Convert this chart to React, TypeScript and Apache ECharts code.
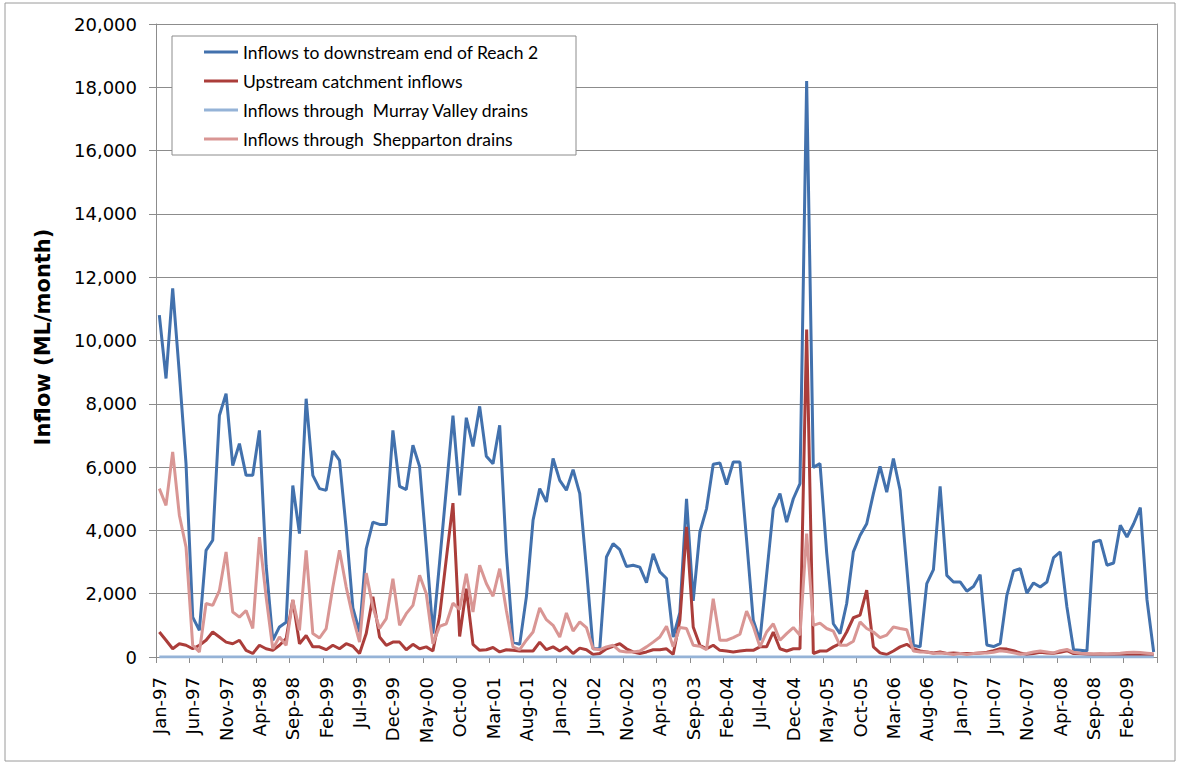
import React, { useEffect, useRef } from "react";
import * as echarts from "echarts";

const MONTH_NAMES = ["Jan", "Feb", "Mar", "Apr", "May", "Jun", "Jul", "Aug", "Sep", "Oct", "Nov", "Dec"];
const FIRST_YEAR = 1997;
const N_MONTHS = 150;
const categories: string[] = Array.from({ length: N_MONTHS }, (_, i) => {
  const y = (FIRST_YEAR + Math.floor(i / 12)) % 100;
  return `${MONTH_NAMES[i % 12]}-${String(y).padStart(2, "0")}`;
});

const seriesNames = [
  "Inflows to downstream end of Reach 2",
  "Upstream catchment inflows",
  "Inflows through  Murray Valley drains",
  "Inflows through  Shepparton drains",
];

const reach2Inflows = [
  10800, 8800, 11650, 8950, 6100, 1260, 840, 3370, 3690, 7630,
  8320, 6050, 6740, 5740, 5740, 7160, 2900, 530, 950, 1100,
  5420, 3900, 8160, 5740, 5320, 5265, 6510, 6210, 4050, 1550,
  790, 3420, 4260, 4190, 4190, 7160, 5390, 5290, 6690, 6020,
  3470, 740, 3000, 5300, 7630, 5110, 7560, 6650, 7920, 6340,
  6110, 7320, 3300, 470, 400, 1900, 4320, 5320, 4900, 6270,
  5580, 5270, 5920, 5160, 2800, 260, 260, 3160, 3580, 3390,
  2860, 2900, 2840, 2350, 3260, 2690, 2480, 630, 1400, 5000,
  1770, 3950, 4690, 6090, 6130, 5450, 6160, 6160, 3700, 1160,
  530, 2600, 4690, 5160, 4260, 5000, 5480, 18200, 5990, 6110,
  3300, 1050, 740, 1690, 3320, 3840, 4210, 5160, 6020, 5210,
  6270, 5270, 2840, 370, 320, 2320, 2760, 5390, 2580, 2370,
  2370, 2080, 2230, 2600, 380, 330, 420, 1950, 2720, 2790,
  2020, 2340, 2210, 2370, 3140, 3320, 1580, 230, 210, 190,
  3630, 3690, 2900, 2970, 4160, 3790, 4210, 4720, 1810, 160,
];

const upstreamInflows = [
  790, 530, 260, 420, 370, 260, 370, 530, 790, 630,
  470, 420, 530, 210, 110, 370, 260, 210, 370, 580,
  1800, 420, 680, 320, 320, 230, 370, 260, 420, 340,
  110, 740, 1900, 630, 370, 470, 470, 230, 400, 260,
  320, 190, 1300, 3100, 4860, 650, 2160, 400, 210, 230,
  300, 160, 230, 210, 190, 190, 190, 470, 230, 320,
  190, 320, 110, 280, 230, 80, 110, 260, 340, 420,
  260, 160, 110, 160, 230, 230, 260, 80, 1160, 4110,
  950, 370, 260, 370, 210, 190, 160, 190, 210, 210,
  320, 320, 790, 260, 190, 260, 260, 10350, 110, 190,
  190, 320, 420, 790, 1240, 1320, 2110, 320, 130, 80,
  190, 320, 400, 260, 190, 160, 130, 160, 110, 130,
  110, 110, 110, 130, 150, 200, 260, 250, 200, 130,
  80, 110, 150, 130, 120, 150, 200, 110, 100, 90,
  80, 70, 70, 80, 60, 70, 90, 80, 70, 60,
];

const murrayValleyDrains = [
  0, 0, 0, 0, 0, 0, 0, 0, 0, 0,
  0, 0, 0, 0, 0, 0, 0, 0, 0, 0,
  0, 0, 0, 0, 0, 0, 0, 0, 0, 0,
  0, 0, 0, 0, 0, 0, 0, 0, 0, 0,
  0, 0, 0, 0, 0, 0, 0, 0, 0, 0,
  0, 0, 0, 0, 0, 0, 0, 0, 0, 0,
  0, 0, 0, 0, 0, 0, 0, 0, 0, 0,
  0, 0, 0, 0, 0, 0, 0, 0, 0, 0,
  0, 0, 0, 0, 0, 0, 0, 0, 0, 0,
  0, 0, 0, 0, 0, 0, 0, 0, 0, 0,
  0, 0, 0, 0, 0, 0, 0, 0, 0, 0,
  0, 0, 0, 0, 0, 0, 0, 0, 0, 0,
  0, 0, 0, 0, 0, 0, 0, 0, 0, 0,
  0, 0, 0, 0, 0, 0, 0, 0, 0, 0,
  0, 0, 0, 0, 0, 0, 0, 0, 0, 0,
];

const sheppartonDrains = [
  5320, 4790, 6480, 4480, 3470, 370, 160, 1690, 1630, 2100,
  3320, 1420, 1260, 1470, 900, 3790, 1900, 260, 630, 370,
  1800, 840, 3370, 740, 600, 900, 2210, 3370, 2210, 1260,
  470, 2650, 1580, 900, 1210, 2470, 1000, 1370, 1630, 2580,
  2000, 420, 970, 1050, 1700, 1500, 2630, 1420, 2900, 2320,
  1920, 2790, 1470, 320, 230, 530, 790, 1550, 1180, 1000,
  630, 1390, 820, 1110, 930, 260, 230, 320, 370, 190,
  160, 160, 190, 320, 470, 630, 970, 320, 930, 900,
  370, 340, 230, 1840, 530, 530, 610, 720, 1450, 970,
  320, 790, 1050, 530, 740, 930, 690, 3900, 1000, 1070,
  900, 820, 370, 370, 500, 1110, 900, 790, 610, 690,
  950, 900, 860, 190, 160, 160, 110, 130, 110, 80,
  110, 80, 110, 130, 130, 150, 200, 170, 130, 90,
  110, 160, 190, 160, 130, 200, 240, 150, 120, 110,
  100, 110, 100, 110, 120, 140, 150, 140, 120, 100,
];

const Y_MIN = 0;
const Y_MAX = 20000;
const Y_INTERVAL = 2000;

const COLORS = ["#4271ad", "#ab3d3a", "#95b3d7", "#d99694"];
const GRID_GRAY = "#8c8c8c";
const AXIS_FONT = "'DejaVu Sans', sans-serif";
const LEGEND_FONT = "Lato, 'Open Sans', sans-serif";

export default function App() {
  const ref = useRef<HTMLDivElement>(null);

  useEffect(() => {
    if (!ref.current) return;
    const chart = echarts.init(ref.current, undefined, { renderer: "svg" });
    const seriesData = [reach2Inflows, upstreamInflows, murrayValleyDrains, sheppartonDrains];

    chart.setOption({
      animation: false,
      backgroundColor: "#ffffff",
      grid: { left: 156, right: 26, top: 24, bottom: 107, containLabel: false },
      legend: {
        data: seriesNames,
        orient: "vertical",
        left: 204,
        top: 42,
        padding: 0,
        icon: "rect",
        itemWidth: 34,
        itemHeight: 3,
        itemGap: 9,
        z: 6,
        textStyle: { fontFamily: LEGEND_FONT, fontSize: 17.5, color: "#000", lineHeight: 20 },
      },
      xAxis: {
        type: "category",
        data: categories,
        boundaryGap: true,
        axisLine: { lineStyle: { color: GRID_GRAY, width: 1 } },
        axisTick: { show: true, interval: 4, length: 6, lineStyle: { color: GRID_GRAY } },
        axisLabel: {
          interval: 4,
          rotate: 90,
          margin: 20,
          fontFamily: AXIS_FONT,
          fontSize: 18,
          color: "#000",
        },
        splitLine: { show: false },
      },
      yAxis: [
        {
          type: "value",
          min: Y_MIN,
          max: Y_MAX,
          interval: Y_INTERVAL,
          axisLine: { show: true, lineStyle: { color: GRID_GRAY, width: 1 } },
          axisTick: { show: true, length: 7, lineStyle: { color: GRID_GRAY } },
          axisLabel: {
            margin: 19,
            fontFamily: AXIS_FONT,
            fontSize: 18,
            color: "#000",
            formatter: (v: number) => v.toLocaleString("en-US"),
          },
          splitLine: { show: true, lineStyle: { color: GRID_GRAY, width: 1 } },
        },
        {
          type: "value",
          position: "right",
          min: Y_MIN,
          max: Y_MAX,
          interval: Y_INTERVAL,
          axisLine: { show: true, lineStyle: { color: GRID_GRAY, width: 1 } },
          axisTick: { show: false },
          axisLabel: { show: false },
          splitLine: { show: false },
        },
      ],
      series: seriesNames.map((name, k) => ({
        name,
        type: "line",
        data: seriesData[k],
        yAxisIndex: 0,
        symbol: "none",
        color: COLORS[k],
        itemStyle: { color: COLORS[k] },
        lineStyle: { width: 3, color: COLORS[k] },
        z: 2 + k * 0.1,
      })),
      graphic: [
        {
          type: "rect",
          z: 5,
          shape: { x: 172, y: 36, width: 404, height: 119 },
          style: { fill: "#ffffff", stroke: "#8c8c8c", lineWidth: 1 },
        },
        {
          type: "rect",
          z: 1,
          silent: true,
          shape: { x: 5, y: 3, width: 1170, height: 758 },
          style: { fill: "none", stroke: "#9a9a9a", lineWidth: 1 },
        },
        {
          type: "text",
          z: 5,
          x: 43,
          y: 337,
          rotation: Math.PI / 2,
          style: {
            text: "Inflow (ML/month)",
            fontFamily: AXIS_FONT,
            fontWeight: "bold",
            fontSize: 21,
            fill: "#000",
            align: "center",
            verticalAlign: "middle",
          },
        },
      ],
    });

    return () => chart.dispose();
  }, []);

  return (
    <div
      ref={ref}
      style={{ position: "absolute", left: 0, top: 0, width: 1183, height: 764, background: "#fff" }}
    />
  );
}
